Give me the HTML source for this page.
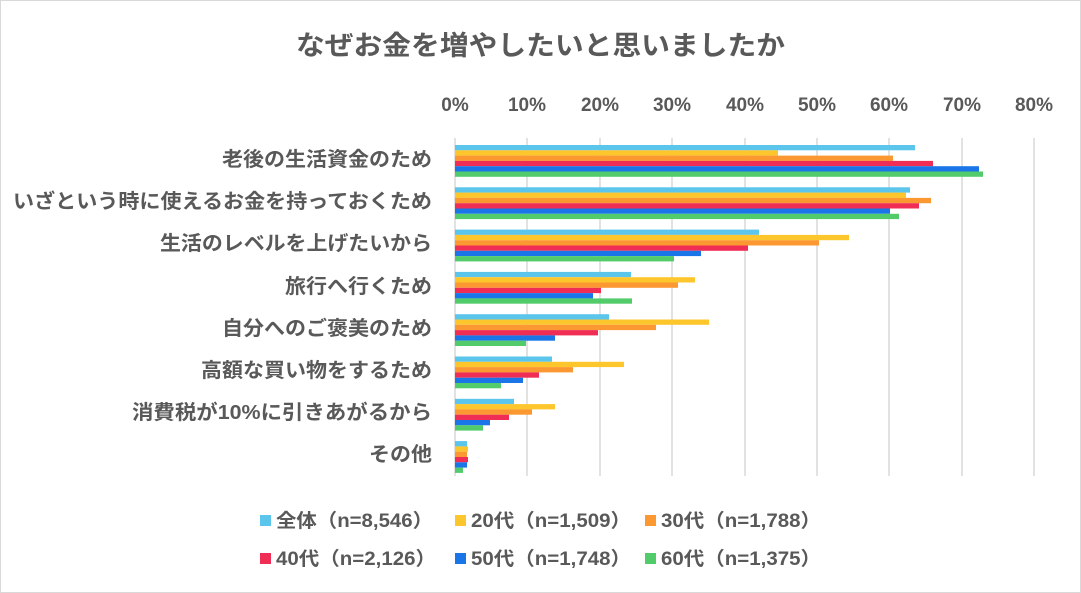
<!DOCTYPE html>
<html><head><meta charset="utf-8"><style>
body{margin:0;background:#fff}
svg{display:block}
text{font-family:"Liberation Sans","Noto Sans CJK JP",sans-serif;fill:#595959;font-weight:bold}
</style></head><body>
<svg width="1081" height="593" viewBox="0 0 1081 593">
<rect x="0.5" y="0.5" width="1080" height="592" fill="#fff" stroke="#d9d9d9"/>
<text x="296" y="55" font-size="27" textLength="489" lengthAdjust="spacingAndGlyphs">なぜお金を増やしたいと思いましたか</text>
<g font-size="19" text-anchor="middle">
<text x="455" y="111">0%</text><text x="527" y="111">10%</text><text x="600" y="111">20%</text><text x="672" y="111">30%</text><text x="745" y="111">40%</text><text x="817" y="111">50%</text><text x="889" y="111">60%</text><text x="962" y="111">70%</text><text x="1034" y="111">80%</text>
</g>
<g stroke="#d9d9d9" stroke-width="1.5">
<line x1="455" y1="138" x2="455" y2="476"/><line x1="527" y1="138" x2="527" y2="476"/><line x1="600" y1="138" x2="600" y2="476"/><line x1="672" y1="138" x2="672" y2="476"/><line x1="745" y1="138" x2="745" y2="476"/><line x1="817" y1="138" x2="817" y2="476"/><line x1="889" y1="138" x2="889" y2="476"/><line x1="962" y1="138" x2="962" y2="476"/><line x1="1034" y1="138" x2="1034" y2="476"/>
</g>
<g font-size="20" text-anchor="end">
<text x="432" y="166" textLength="210" lengthAdjust="spacingAndGlyphs">老後の生活資金のため</text>
<text x="432" y="208" textLength="419" lengthAdjust="spacingAndGlyphs">いざという時に使えるお金を持っておくため</text>
<text x="432" y="250" textLength="272" lengthAdjust="spacingAndGlyphs">生活のレベルを上げたいから</text>
<text x="432" y="293" textLength="147" lengthAdjust="spacingAndGlyphs">旅行へ行くため</text>
<text x="432" y="335" textLength="210" lengthAdjust="spacingAndGlyphs">自分へのご褒美のため</text>
<text x="432" y="377" textLength="231" lengthAdjust="spacingAndGlyphs">高額な買い物をするため</text>
<text x="432" y="419" textLength="300" lengthAdjust="spacingAndGlyphs">消費税が10%に引きあがるから</text>
<text x="432" y="461" textLength="63" lengthAdjust="spacingAndGlyphs">その他</text>
</g>
<g font-size="19">
<rect x="260" y="515" width="11" height="11" fill="#5bc5ec"/><text x="276" y="527" textLength="157" lengthAdjust="spacingAndGlyphs">全体（n=8,546）</text>
<rect x="455" y="515" width="11" height="11" fill="#fcc62c"/><text x="471" y="527" textLength="160" lengthAdjust="spacingAndGlyphs">20代（n=1,509）</text>
<rect x="645" y="515" width="11" height="11" fill="#fb9831"/><text x="661" y="527" textLength="160" lengthAdjust="spacingAndGlyphs">30代（n=1,788）</text>
<rect x="260" y="553" width="11" height="11" fill="#f02d55"/><text x="276" y="565" textLength="160" lengthAdjust="spacingAndGlyphs">40代（n=2,126）</text>
<rect x="455" y="553" width="11" height="11" fill="#1a75e8"/><text x="471" y="565" textLength="160" lengthAdjust="spacingAndGlyphs">50代（n=1,748）</text>
<rect x="645" y="553" width="11" height="11" fill="#52cc6a"/><text x="661" y="565" textLength="160" lengthAdjust="spacingAndGlyphs">60代（n=1,375）</text>
</g>
<g>
<rect x="455" y="145" width="460" height="5.3" fill="#5bc5ec"/><rect x="455" y="150.3" width="323" height="5.3" fill="#fcc62c"/><rect x="455" y="155.6" width="438" height="5.3" fill="#fb9831"/><rect x="455" y="160.9" width="478" height="5.3" fill="#f02d55"/><rect x="455" y="166.2" width="524" height="5.3" fill="#1a75e8"/><rect x="455" y="171.5" width="528" height="5.3" fill="#52cc6a"/>
<rect x="455" y="187.3" width="455" height="5.3" fill="#5bc5ec"/><rect x="455" y="192.6" width="451" height="5.3" fill="#fcc62c"/><rect x="455" y="197.9" width="476" height="5.3" fill="#fb9831"/><rect x="455" y="203.2" width="464" height="5.3" fill="#f02d55"/><rect x="455" y="208.5" width="435" height="5.3" fill="#1a75e8"/><rect x="455" y="213.8" width="444" height="5.3" fill="#52cc6a"/>
<rect x="455" y="229.6" width="304" height="5.3" fill="#5bc5ec"/><rect x="455" y="234.9" width="394" height="5.3" fill="#fcc62c"/><rect x="455" y="240.2" width="364" height="5.3" fill="#fb9831"/><rect x="455" y="245.5" width="293" height="5.3" fill="#f02d55"/><rect x="455" y="250.8" width="246" height="5.3" fill="#1a75e8"/><rect x="455" y="256.1" width="219" height="5.3" fill="#52cc6a"/>
<rect x="455" y="271.9" width="176" height="5.3" fill="#5bc5ec"/><rect x="455" y="277.2" width="240" height="5.3" fill="#fcc62c"/><rect x="455" y="282.5" width="223" height="5.3" fill="#fb9831"/><rect x="455" y="287.8" width="146" height="5.3" fill="#f02d55"/><rect x="455" y="293.1" width="138" height="5.3" fill="#1a75e8"/><rect x="455" y="298.4" width="177" height="5.3" fill="#52cc6a"/>
<rect x="455" y="314.2" width="154" height="5.3" fill="#5bc5ec"/><rect x="455" y="319.5" width="254" height="5.3" fill="#fcc62c"/><rect x="455" y="324.8" width="201" height="5.3" fill="#fb9831"/><rect x="455" y="330.1" width="143" height="5.3" fill="#f02d55"/><rect x="455" y="335.4" width="100" height="5.3" fill="#1a75e8"/><rect x="455" y="340.7" width="71" height="5.3" fill="#52cc6a"/>
<rect x="455" y="356.5" width="97" height="5.3" fill="#5bc5ec"/><rect x="455" y="361.8" width="169" height="5.3" fill="#fcc62c"/><rect x="455" y="367.1" width="118" height="5.3" fill="#fb9831"/><rect x="455" y="372.4" width="84" height="5.3" fill="#f02d55"/><rect x="455" y="377.7" width="68" height="5.3" fill="#1a75e8"/><rect x="455" y="383" width="46" height="5.3" fill="#52cc6a"/>
<rect x="455" y="398.8" width="59" height="5.3" fill="#5bc5ec"/><rect x="455" y="404.1" width="100" height="5.3" fill="#fcc62c"/><rect x="455" y="409.4" width="77" height="5.3" fill="#fb9831"/><rect x="455" y="414.7" width="54" height="5.3" fill="#f02d55"/><rect x="455" y="420" width="35" height="5.3" fill="#1a75e8"/><rect x="455" y="425.3" width="28" height="5.3" fill="#52cc6a"/>
<rect x="455" y="441.1" width="12" height="5.3" fill="#5bc5ec"/><rect x="455" y="446.4" width="13" height="5.3" fill="#fcc62c"/><rect x="455" y="451.7" width="12" height="5.3" fill="#fb9831"/><rect x="455" y="457" width="13" height="5.3" fill="#f02d55"/><rect x="455" y="462.3" width="12" height="5.3" fill="#1a75e8"/><rect x="455" y="467.6" width="8" height="5.3" fill="#52cc6a"/>
</g>
</svg>
</body></html>
